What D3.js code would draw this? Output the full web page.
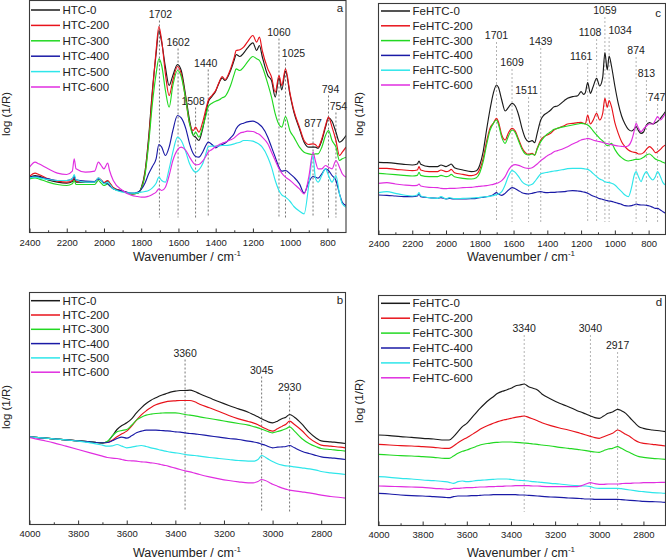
<!DOCTYPE html>
<html><head><meta charset="utf-8">
<script src="https://cdn.jsdelivr.net/npm/d3@7"></script>
<style>body{margin:0;background:#fff}svg{display:block}text{font-family:"Liberation Sans",Arial,sans-serif;fill:#222}</style>
</head><body><svg id="c" width="666" height="559"></svg>
<script>
// ---------- DATA (log(1/R), arbitrary units x1e-3) ----------
const namesHTC = ["HTC-0","HTC-200","HTC-300","HTC-400","HTC-500","HTC-600"];
const namesFe = ["FeHTC-0","FeHTC-200","FeHTC-300","FeHTC-400","FeHTC-500","FeHTC-600"];
const ticksTop = [2400,2200,2000,1800,1600,1400,1200,1000,800];
const minorTop = [2300,2100,1900,1700,1500,1300,1100,900];
const ticksBottom = [4000,3800,3600,3400,3200,3000,2800];
const minorBottom = [3900,3700,3500,3300,3100,2900];

// panel a: HTC, fingerprint region
const wnA = [2400,2370,2350,2300,2250,2200,2170,2160,2150,2100,2050,2030,2015,2000,1980,1970,1950,1900,1850,1820,1800,1780,1760,1740,1720,1705,1690,1670,1650,1630,1605,1585,1560,1540,1520,1508,1490,1470,1450,1440,1420,1400,1380,1365,1350,1320,1300,1290,1270,1250,1230,1200,1180,1165,1150,1120,1100,1080,1060,1045,1025,1000,980,950,925,900,877,865,850,830,810,794,775,754,735,720,700];
const htc0A = [470,475,473,462,455,452,457,465,455,455, 455,465,460,452,458,452,438,428,420,422, 438,485,590,730,840,910,875,800,745,775, 808,790,710,640,595,590,580,615,670,695, 712,728,755,768,760,790,822,838,832,842, 857,873,850,865,832,775,760,710,768,732, 788,715,665,615,575,560,560,560,557,580, 620,648,638,605,575,580,595];
const htc200A = [472,482,478,465,458,455,460,470,458,457, 457,467,462,454,460,454,438,428,420,422, 435,480,580,720,850,922,880,780,715,760, 802,780,700,630,610,620,605,635,680,700, 715,730,757,772,763,795,830,850,852,860, 875,895,875,890,850,795,770,725,775,745, 795,720,670,620,580,568,570,568,560,585, 625,650,620,580,535,545,560];
const htc300A = [465,468,465,455,448,445,450,460,448,448, 448,460,452,445,450,445,435,427,420,422, 435,475,570,690,780,825,805,730,680,745, 790,772,700,630,595,605,590,620,660,682, 692,698,702,708,712,745,780,795,790,800, 815,832,825,820,802,750,710,660,628,620, 652,608,590,560,545,540,538,540,540,560, 595,610,580,560,520,525,530];
const htc400A = [470,472,470,465,460,460,465,472,462,458, 457,465,460,452,450,445,435,428,422,425, 433,452,480,502,525,568,560,535,560,610, 655,648,615,570,540,532,530,545,568,575, 568,558,565,568,572,588,602,615,628,632, 636,638,634,628,620,590,560,530,500,488, 490,480,470,450,422,455,472,470,467,480, 495,490,475,460,420,395,385];
const htc500A = [468,470,468,463,460,460,465,478,462,455, 455,468,460,450,455,450,435,425,422,423, 425,427,430,438,452,470,460,455,495,545, 590,580,545,510,490,485,492,510,545,562, 563,563,564,565,565,567,570,572,575,580, 580,578,573,568,560,530,500,460,430,417, 410,397,382,368,360,445,535,470,455,475, 495,475,455,475,420,390,380];
const htc600A = [500,515,510,495,482,478,488,525,495,485, 488,515,505,495,512,490,460,430,415,412, 410,410,413,418,425,435,430,440,475,520, 552,560,550,530,513,507,508,518,535,545, 553,562,568,572,575,582,588,593,602,605, 608,607,602,598,590,570,545,520,495,482, 470,460,450,435,420,470,545,520,495,495, 505,500,495,520,500,480,470];
const peaksA = [1702,1602,1508,1440,1060,1025,877,794,754];
const peakTopA = [940,856,679,793,886,823,613,715,664];

// panel b: HTC, high wavenumber region
const wnB = [4000,3950,3900,3850,3800,3750,3700,3680,3660,3640,3620,3600,3580,3560,3540,3520,3500,3480,3460,3440,3420,3400,3380,3360,3340,3320,3300,3260,3220,3180,3140,3100,3080,3060,3045,3030,3015,3000,2980,2960,2945,2930,2910,2880,2850,2820,2800,2760,2720,2700];
const htc0B = [528,525,522,519,516,513,510,513,530,550, 562,570,582,600,615,628,638,645,652,657, 662,665,667,667,668,664,657,645,633,622, 612,602,595,588,582,577,572,570,575,583, 587,595,587,567,542,524,516,513,510,508];
const htc200B = [528,525,522,519,516,513,510,511,518,528, 537,545,560,578,594,606,616,624,629,633, 635,636,637,637,637,633,626,615,604,592, 582,574,570,564,558,553,548,545,552,560, 566,575,565,547,525,510,503,500,497,495];
const htc300B = [528,525,522,519,516,513,510,514,530,543, 547,550,563,578,587,593,596,598,599,600, 600,600,598,595,593,591,588,583,578,573, 568,563,559,555,551,547,543,540,544,548, 552,558,545,523,508,498,493,490,487,485];
const htc400B = [528,525,522,519,516,513,510,511,516,523, 527,524,531,540,545,548,548,548,547,546, 545,543,542,540,538,537,535,531,527,523, 520,515,513,510,506,503,498,495,497,498, 499,502,495,485,478,472,468,465,462,460];
const htc500B = [528,525,522,519,515,510,503,500,501,505, 500,495,497,500,502,499,495,492,488,485, 482,480,478,475,473,472,470,466,463,460, 457,455,455,460,472,467,460,454,447,443, 441,440,438,435,432,428,424,420,417,415];
const htc600B = [526,518,510,500,490,480,470,466,464,463, 460,457,456,455,453,452,450,448,445,442, 438,434,430,426,423,419,415,408,402,397, 393,390,390,394,400,397,392,386,380,374, 371,368,366,363,360,356,353,349,346,344];
const peaksB = [3360,3045,2930];
const peakTopB = [760,709,658];

// panel c: FeHTC, fingerprint region
const wnC = [2400,2350,2300,2250,2200,2170,2160,2150,2100,2050,2030,2000,1980,1970,1950,1900,1850,1820,1800,1780,1760,1740,1720,1701,1690,1670,1650,1630,1609,1590,1570,1550,1530,1511,1490,1475,1460,1439,1420,1400,1380,1360,1340,1300,1280,1250,1220,1200,1185,1175,1161,1145,1130,1108,1090,1072,1059,1045,1034,1020,1000,980,960,940,920,900,885,874,860,845,830,813,795,775,760,747,730,715,700];
const fe0C = [513,512,510,507,505,508,517,507,500,500, 505,500,505,508,497,490,485,488,505,545, 610,670,720,745,738,700,667,678,690,682, 655,615,585,575,578,572,600,640,655,662, 670,680,682,698,705,710,713,725,717,722, 752,720,738,765,742,768,842,790,832,802, 742,690,652,628,612,607,613,620,608,600, 604,625,632,628,632,635,645,655,665];
const fe200C = [495,495,492,490,488,490,500,490,485,485, 490,485,488,492,482,477,473,477,492,525, 575,615,630,645,635,595,580,602,615,607, 582,557,542,537,540,535,555,580,590,595, 600,610,615,623,628,630,632,633,630,628, 655,628,638,660,640,660,705,678,698,680, 632,600,575,560,550,545,543,542,538,538, 542,552,560,552,542,545,552,560,565];
const fe300C = [480,478,476,474,472,474,483,474,470,470, 474,470,473,477,470,465,463,467,482,515, 565,608,630,640,628,588,570,592,610,602, 577,552,538,535,538,534,553,575,588,598, 605,612,615,620,622,625,628,630,629,628, 625,618,608,595,585,577,570,563,565,570, 552,537,527,520,517,519,521,522,522,524, 528,535,538,530,523,520,517,513,510];
const fe400C = [415,414,412,410,410,412,418,410,407,405, 407,403,405,404,403,403,404,405,407,408, 410,412,416,422,418,414,420,430,437,434, 428,422,419,418,420,422,424,425,423,422, 423,423,424,425,427,428,427,426,424,423, 420,416,412,408,404,402,400,398,397,396, 393,390,387,383,382,383,386,388,386,385, 385,384,382,378,375,375,370,365,360];
const fe500C = [422,425,420,415,412,415,422,412,407,405, 410,403,407,406,404,405,406,407,408,409, 410,411,413,416,418,425,445,472,488,483, 470,455,447,444,447,455,465,478,481,483, 485,487,488,492,494,495,495,495,494,493, 492,487,480,470,463,459,455,453,452,450, 445,435,425,415,410,440,475,485,470,455, 473,485,470,460,470,485,470,452,445];
const fe600C = [450,452,448,445,443,444,448,442,438,437, 435,434,435,435,435,437,438,440,441,442, 443,445,447,450,452,458,470,490,503,506, 504,500,496,495,497,502,508,518,525,533, 538,545,548,555,560,568,575,580,582,583, 585,583,580,577,575,573,571,569,568,566, 564,562,561,560,563,580,608,630,615,605, 613,622,628,628,640,650,640,648,660];
const peaksC = [1701,1609,1511,1439,1161,1108,1059,1034,874,813,747];
const peakTopC = [874,793,709,856,811,883,949,889,829,760,688];

// panel d: FeHTC, high wavenumber region
const wnD = [4000,3950,3900,3850,3800,3750,3700,3680,3660,3640,3620,3600,3580,3560,3540,3520,3500,3480,3460,3440,3420,3400,3380,3360,3340,3320,3300,3280,3260,3220,3180,3140,3100,3080,3060,3040,3020,3000,2980,2960,2940,2917,2900,2880,2860,2840,2820,2800,2760,2720,2700];
const fe0D = [535,533,530,528,525,523,520,520,530,545, 560,570,585,600,615,628,640,650,660,666, 670,675,682,685,688,680,675,670,658,643, 630,620,608,603,598,592,587,585,592,600, 604,612,608,600,586,572,560,555,550,547,545];
const fe200D = [507,505,503,502,500,498,495,495,502,512, 520,527,535,543,552,559,565,570,575,579, 582,585,588,590,592,588,583,578,572,563, 556,550,543,539,535,531,527,525,530,535, 540,550,545,537,530,520,513,510,507,504,502];
const fe300D = [477,475,473,472,470,468,465,465,472,480, 486,490,495,500,505,508,510,512,513,514, 514,514,513,512,511,510,508,507,505,502, 498,495,492,490,488,486,484,483,488,493, 495,500,495,488,482,475,470,468,465,463,462];
const fe400D = [360,358,355,353,352,350,348,347,350,352, 352,352,353,353,354,355,355,356,356,356, 356,356,356,355,355,354,353,352,351,349, 348,346,345,344,343,343,342,342,342,342, 342,342,341,340,339,338,337,336,335,334,333];
const fe500D = [410,408,405,403,400,398,395,393,390,395, 397,395,396,398,399,400,401,402,403,403, 403,402,400,399,398,397,395,394,393,390, 388,385,383,382,382,380,376,375,375,375, 375,375,374,372,370,368,366,365,362,361,360];
const fe600D = [382,381,380,379,378,375,373,372,375,375, 376,377,377,378,379,379,380,380,381,381, 382,382,383,383,383,383,382,382,381,380, 380,380,380,383,388,392,389,387,387,388, 388,388,389,390,390,391,391,392,392,393,393];
const peaksD = [3340,3040,2917];
const peakTopD = [835,835,784];

// ---------- STYLE / LAYOUT ----------
const colors = ["#1b1b1b","#e8131b","#22d822","#1a1aa6","#2ee6ea","#e02ee0"];
// horizontal nudges (px) of peak labels relative to their marker line
const labelDxA = [1,0,-2.5,-2.5,0,8,0,2,2.5];
const labelDxB = [0,0,0];
const labelDxC = [0,0,-2,0,-6.5,-6.5,0,11,0,0,-1];
const labelDxD = [0,0,0];
const panels = [
  {letter:"a", wn:wnA, ys:[htc0A,htc200A,htc300A,htc400A,htc500A,htc600A], names:namesHTC,
   x0:29.5,x1:346,y0:0.5,y1:232.5, xd:[2400,700], yd:[304,1000], ticks:ticksTop, minor:minorTop, pad:7,
   peaks:peaksA, peakTop:peakTopA, peakBottom:349, ldx:labelDxA, dash:"#666",
   leg:{x:31,y:10,dy:15.4}, lab:{x:340,y:12}, ylab:{x:10,y:114}, xlab:{x:187,y:261}},
  {letter:"b", wn:wnB, ys:[htc0B,htc200B,htc300B,htc400B,htc500B,htc600B], names:namesHTC,
   x0:29.5,x1:345.5,y0:292.5,y1:524.5, xd:[4000,2700], yd:[265,1000], ticks:ticksBottom, minor:minorBottom, pad:6,
   peaks:peaksB, peakTop:peakTopB, peakBottom:304, ldx:labelDxB, dash:"#666",
   leg:{x:31,y:300.7,dy:14.3}, lab:{x:340,y:304}, ylab:{x:10,y:407}, xlab:{x:187,y:557}},
  {letter:"c", wn:wnC, ys:[fe0C,fe200C,fe300C,fe400C,fe500C,fe600C], names:namesFe,
   x0:378.5,x1:665.5,y0:3.5,y1:234.5, xd:[2400,700], yd:[296.5,1000], ticks:ticksTop, minor:minorTop, pad:6,
   peaks:peaksC, peakTop:peakTopC, peakBottom:334, ldx:labelDxC, dash:"#aaa",
   leg:{x:381,y:11,dy:14.8}, lab:{x:658,y:17}, ylab:{x:363,y:114}, xlab:{x:521,y:261}},
  {letter:"d", wn:wnD, ys:[fe0D,fe200D,fe300D,fe400D,fe500D,fe600D], names:namesFe,
   x0:378.5,x1:665.5,y0:295.5,y1:525.5, xd:[4000,2700], yd:[263.5,1000], ticks:ticksBottom, minor:minorBottom, pad:6,
   peaks:peaksD, peakTop:peakTopD, peakBottom:304, ldx:labelDxD, dash:"#aaa",
   leg:{x:381,y:303.3,dy:14.9}, lab:{x:659,y:306}, ylab:{x:363,y:401}, xlab:{x:521,y:557}}
];

const svg = d3.select("#c");
const defs = svg.append("defs");

panels.forEach((p,pi)=>{
  const x = d3.scaleLinear().domain(p.xd).range([p.x0,p.x1]);
  const y = d3.scaleLinear().domain(p.yd).range([p.y1, p.y1 - (1000 - p.yd[0]) / 3]);
  const g = svg.append("g");
  const cid = "clip"+pi;
  defs.append("clipPath").attr("id",cid).append("rect")
    .attr("x",p.x0).attr("y",p.y0).attr("width",p.x1-p.x0).attr("height",p.y1-p.y0);

  // peak marker lines
  g.append("g").selectAll("line").data(p.peaks).join("line")
    .attr("x1",d=>x(d)).attr("x2",d=>x(d))
    .attr("y1",(d,i)=>y(p.peakTop[i])).attr("y2",y(p.peakBottom))
    .attr("stroke",p.dash).attr("stroke-width",0.9).attr("stroke-dasharray","2,2");
  g.append("g").selectAll("text").data(p.peaks).join("text")
    .attr("x",(d,i)=>x(d)+p.ldx[i]).attr("y",(d,i)=>y(p.peakTop[i])-3)
    .attr("text-anchor","middle").attr("font-size",10.5).text(d=>d);

  // spectra
  const line = d3.line().x((d,i)=>x(p.wn[i])).y(d=>y(d)).curve(d3.curveMonotoneX);
  g.append("g").attr("clip-path",`url(#${cid})`).selectAll("path").data(p.ys).join("path")
    .attr("d",d=>line(d)).attr("fill","none")
    .attr("stroke",(d,i)=>colors[i]).attr("stroke-width",1.15).attr("stroke-linejoin","round");

  // frame
  g.append("rect").attr("x",p.x0).attr("y",p.y0).attr("width",p.x1-p.x0).attr("height",p.y1-p.y0)
    .attr("fill","none").attr("stroke","#3a3a3a").attr("stroke-width",1.1);

  // x axis (ticks inward)
  const ax = g.append("g").attr("transform",`translate(0,${p.y1})`)
    .call(d3.axisBottom(x).tickValues(p.ticks).tickSize(-4).tickPadding(p.pad).tickFormat(d3.format("d")));
  ax.select(".domain").remove();
  ax.selectAll("line").attr("stroke","#333");
  ax.selectAll("text").attr("font-size",9.5).attr("fill","#222").attr("font-family","Liberation Sans, Arial, sans-serif");
  const axm = g.append("g").attr("transform",`translate(0,${p.y1})`)
    .call(d3.axisBottom(x).tickValues(p.minor).tickSize(-2.2).tickFormat(""));
  axm.select(".domain").remove();
  axm.selectAll("line").attr("stroke","#333");

  // axis titles
  const xt = g.append("text").attr("x",p.xlab.x).attr("y",p.xlab.y).attr("text-anchor","middle").attr("font-size",12.5);
  xt.append("tspan").text("Wavenumber / cm");
  xt.append("tspan").attr("dy",-5).attr("font-size",8).text("-1");
  g.append("text").attr("transform",`translate(${p.ylab.x},${p.ylab.y}) rotate(-90)`)
    .attr("text-anchor","middle").attr("font-size",11.5).text("log (1/R)");

  // panel letter
  g.append("text").attr("x",p.lab.x).attr("y",p.lab.y).attr("text-anchor","middle").attr("font-size",11.5).text(p.letter);

  // legend
  const lg = g.append("g").selectAll("g").data(p.names).join("g")
    .attr("transform",(d,i)=>`translate(${p.leg.x},${p.leg.y + i*p.leg.dy})`);
  lg.append("line").attr("x1",0).attr("x2",29).attr("y1",0).attr("y2",0)
    .attr("stroke",(d,i)=>colors[i]).attr("stroke-width",1.5);
  lg.append("text").attr("x",31.5).attr("y",4).attr("font-size",11.5).text(d=>d);
});
</script></body></html>
